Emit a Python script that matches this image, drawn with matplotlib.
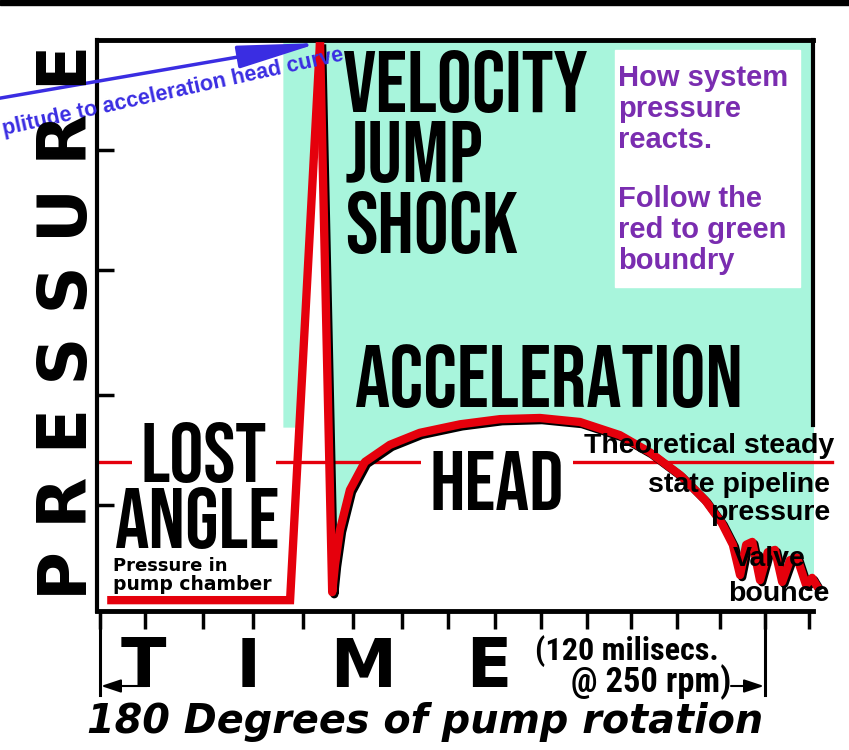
import os
import matplotlib
matplotlib.use('Agg')
import matplotlib.pyplot as plt
import matplotlib.patheffects as pe
import matplotlib.font_manager as fm
from matplotlib.transforms import Affine2D
from matplotlib.patches import Rectangle
import numpy as np

# pump chamber pressure, then the rise up to the velocity jump peak (ms, relative pressure)
rise_t = [1.3, 34.3, 39.7]
rise_p = [1.9, 1.9, 99.6]

# from the peak down into the trough, along the acceleration head, into the valve bounce
head_t = [39.7, 41.9, 42.4, 43.3, 45.1, 47.8, 52.3, 57.7, 65.0, 72.2, 79.4, 86.6, 93.8, 99.2,
          104.7, 109.2, 112.2, 114.2, 115.5, 116.6, 117.7, 119.1, 120.5, 121.8, 123.1, 124.5,
          125.8, 127.4, 128.5, 129.6]
head_p = [99.6, 3.3, 8.1, 14.2, 21.2, 26.1, 29.1, 31.2, 32.7, 33.6, 33.8, 33.1, 30.8, 27.8,
          23.8, 19.4, 15.4, 11.6, 6.3, 11.6, 12.1, 5.4, 10.3, 10.7, 5.1, 8.9, 9.3, 4.6, 5.8, 4.0]

steady_t = [0.0, 132.0]
steady_p = [26.1, 26.1]

time_ticks = [0, 8.1, 18.6, 27.6, 36.6, 45.7, 54.5, 62.8, 71.3, 79.6, 87.9, 95.8, 104.1,
              111.9, 120, 127.9]
pressure_ticks = [18.6, 37.8, 59.7, 80.7]
span_ms = [0, 120]

red = '#e5000c'
green = '#a8f5dc'
purple = '#7a2db0'
blue = '#3a2de2'
arial = ['Liberation Sans', 'DejaVu Sans']


def pick_font(keys):
    files = [f.fname for f in fm.fontManager.ttflist]
    for k in keys:
        for fn in files:
            if os.path.basename(fn).lower().startswith(k):
                return fm.FontProperties(fname=fn)
    return fm.FontProperties(family='DejaVu Sans', weight='bold')


# tall condensed face for the headings, a narrow one with lower case for the time note
cond = pick_font(['oswald-bold.', 'bebasneue', 'anton-regular.', 'notosans-extracondensedbold.',
                  'notosansdisplay-extracondensedbold.', 'liberationsansnarrow-bold.',
                  'robotocondensed-bold.', 'opensans-condbold.', 'notosans-condensedbold.',
                  'dejavusanscondensed-bold.'])
narrow = pick_font(['liberationsansnarrow-bold.', 'robotocondensed-bold.', 'opensans-condbold.',
                    'notosans-condensedbold.', 'dejavusanscondensed-bold.', 'oswald-bold.'])

fig = plt.figure(figsize=(8.49, 7.5), dpi=100)
ax = fig.add_axes([97/849, 139/750, 716/849, 571/750])
ax.set_xlim(-0.54, 128.66)
ax.set_ylim(0, 100)
renderer = fig.canvas.get_renderer()

# layout helper: pixel positions measured from the top left of the picture
pix = Affine2D().scale(1/849, -1/750).translate(0, 1) + fig.transFigure


def fit_text(x, y, s, width, fp, ha='left', **kw):
    t = fig.text(x, y, s, transform=pix, ha=ha, va='baseline', fontproperties=fp.copy(),
                 zorder=6, **kw)
    t.set_fontsize(40)
    w = t.get_window_extent(renderer).width
    t.set_fontsize(40 * width / w)
    return t


fig.add_artist(Rectangle((0, 0), 849, 5, transform=pix, color='k'))

# green area above the red curve
ax.fill_between(head_t, head_p, 100, color=green, lw=0, zorder=1)
p_band = np.linspace(32.2, 100, 60)
ax.fill_betweenx(p_band, 33.0, np.interp(p_band, rise_p[1:], rise_t[1:]), color=green, lw=0, zorder=1)
ax.add_patch(Rectangle((92.9, 56.7), 33.4, 41.5, color='white', zorder=2))

ax.plot(steady_t, steady_p, color=red, lw=2.4, zorder=2, clip_on=False)

ax.plot(rise_t, rise_p, color=red, lw=6, solid_capstyle='butt', solid_joinstyle='miter',
        zorder=5, clip_on=False)
ax.plot(head_t, head_p, color=red, lw=6, solid_capstyle='butt', solid_joinstyle='round',
        zorder=5, clip_on=False,
        path_effects=[pe.SimpleLineShadow(offset=(1.5, -1.5), shadow_color='k', alpha=1, rho=1),
                      pe.Normal()])

# frame
for s in ['top', 'bottom']:
    ax.spines[s].set_linewidth(3.5)
ax.spines['left'].set_linewidth(3)
ax.spines['right'].set_visible(False)
ax.plot([1, 1], [0.326, 1], transform=ax.transAxes, color='k', lw=3, clip_on=False)
ax.set_xticks(time_ticks)
ax.set_yticks(pressure_ticks)
ax.set_xticklabels([])
ax.set_yticklabels([])
ax.tick_params(axis='x', direction='out', length=13, width=2.5)
ax.tick_params(axis='y', direction='in', length=12, width=2.5)
ax.set_facecolor('white')

# 120 ms bracket under the time axis
for t in span_ms:
    ax.plot([t, t], [-0.35, -14.7], color='k', lw=2.2, clip_on=False)
ax.annotate('', xy=(101, 686), xycoords=pix, xytext=(147, 686), textcoords=pix,
            arrowprops=dict(arrowstyle='-|>,head_length=0.6,head_width=0.2', mutation_scale=20,
                            lw=1.5, color='k', shrinkA=0, shrinkB=0), annotation_clip=False)
ax.annotate('', xy=(764, 686), xycoords=pix, xytext=(731, 686), textcoords=pix,
            arrowprops=dict(arrowstyle='-|>,head_length=0.6,head_width=0.2', mutation_scale=20,
                            lw=1.5, color='k', shrinkA=0, shrinkB=0), annotation_clip=False)

# blue arrow to the peak
ax.annotate('', xy=(319, 43), xycoords=pix, xytext=(-5, 99), textcoords=pix,
            arrowprops=dict(arrowstyle='-|>,head_length=2.5,head_width=0.35', mutation_scale=20,
                            lw=2.5, color=blue, shrinkA=0, shrinkB=0), annotation_clip=False)
fig.text(4, 135, 'plitude to acceleration head curve', transform=pix, rotation=12.4,
         rotation_mode='anchor', ha='left', va='baseline', color=blue, fontsize=15.5,
         fontweight='bold', family=arial, zorder=3)

# big labels
vel = fit_text(343, 112, 'VELOCITY', 245, cond)
for s, y in [('JUMP', 182), ('SHOCK', 253)]:
    fig.text(345, y, s, transform=pix, ha='left', va='baseline', fontproperties=cond.copy(),
             fontsize=vel.get_fontsize(), zorder=6)
fit_text(355, 407, 'ACCELERATION', 388, cond)
box = dict(boxstyle='square,pad=0.1', fc='white', ec='none')
fit_text(204, 482, 'LOST', 126, cond, ha='center', bbox=box)
fit_text(198, 548, 'ANGLE', 165, cond, ha='center')
fit_text(497, 510, 'HEAD', 134, cond, ha='center', bbox=box)
fit_text(535, 660, '(120 milisecs.', 184, narrow)
fit_text(731, 692, '@ 250 rpm)', 160, narrow, ha='right')

fig.text(113, 571, 'Pressure in', transform=pix, ha='left', va='baseline', fontsize=13,
         fontweight='bold', family='DejaVu Sans', zorder=6)
fig.text(113, 590, 'pump chamber', transform=pix, ha='left', va='baseline', fontsize=13.5,
         fontweight='bold', family='DejaVu Sans', zorder=6)

for s, x, y in [('Theoretical steady', 834, 453), ('state pipeline', 830, 492),
                ('pressure', 830, 520), ('Valve', 806, 566), ('bounce', 829, 601)]:
    fig.text(x, y, s, transform=pix, ha='right', va='baseline', fontsize=20.5, fontweight='bold',
             family=arial, zorder=7)

for s, y in [('How system', 86), ('pressure', 117), ('reacts.', 148),
             ('Follow the', 207), ('red to green', 238), ('boundry', 269)]:
    fig.text(618, y, s, transform=pix, ha='left', va='baseline', fontsize=21, fontweight='bold',
             family=arial, color=purple, zorder=6)

fig.text(68, 322, 'P R E S S U R E', transform=pix, rotation=90, ha='center', va='center',
         fontsize=48, fontweight='bold', family='DejaVu Sans')
fig.text(317, 687, 'T   I   M   E', transform=pix, ha='center', va='baseline', fontsize=48,
         fontweight='bold', family='DejaVu Sans')
fig.text(87, 733, '180 Degrees of pump rotation', transform=pix, ha='left', va='baseline',
         fontsize=28.6, fontweight='bold', style='italic', family='DejaVu Sans')

fig.savefig('out.png', dpi=100, facecolor='white')
